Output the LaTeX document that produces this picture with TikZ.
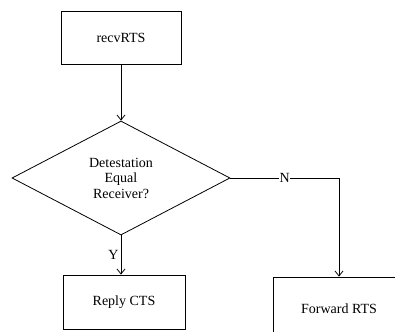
\documentclass[tikz,border=0pt]{standalone}
\usepackage{fontspec}
\setmainfont{Liberation Serif}
\usetikzlibrary{shapes.geometric,arrows.meta}
\tikzset{
    box/.style={draw, rectangle, minimum width=120pt, minimum height=53pt, inner sep=0pt},
    decision/.style={draw, diamond, minimum width=218pt, minimum height=114pt, inner sep=0pt, align=center},
    line/.style={draw, -{Straight Barb[length=5pt,width=8pt]}}
}
\begin{document}
\begin{tikzpicture}[x=1pt, y=-1pt, line width=0.8pt, font=\fontsize{14}{15.5}\selectfont]
                        \useasboundingbox (0,0) rectangle (395,331);
                        \clip (0,0) rectangle (395,331);

                        \node[box] (recv) at (121,37.5) {recvRTS};
                        \node[decision] (dest) at (121,178) {Detestation\\Equal\\Receiver?};
                        \node[box, minimum width=122pt, minimum height=54pt] (reply) at (124,302) {Reply CTS};
                        \node[box, minimum width=132pt, minimum height=64pt] (fwd) at (339,309) {Forward RTS};

                        \path[line] (recv.south) -- (dest.north);
                        \path[line] (dest.south) -- node[left, inner sep=2pt]{Y} (dest.south |- reply.north);
                        \path[line] (dest.east) -| node[pos=0.25, fill=white, inner sep=0.5pt]{N} (fwd.north);
                    \end{tikzpicture}
\end{document}
